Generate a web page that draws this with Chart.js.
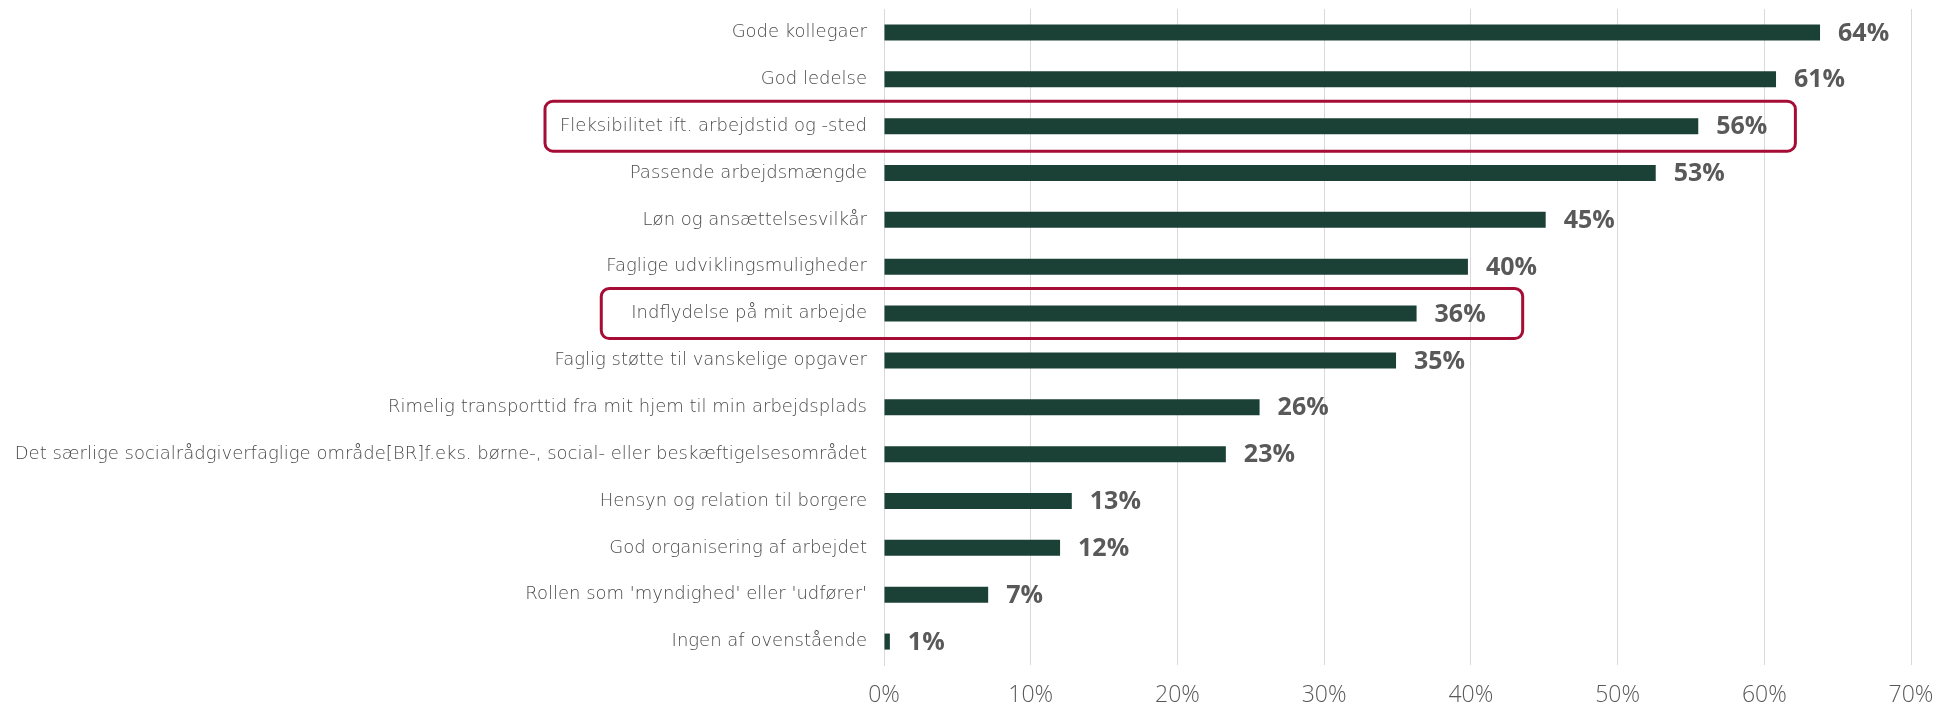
<!DOCTYPE html>
<html>
<head>
<meta charset="utf-8">
<script src="https://cdn.jsdelivr.net/npm/chart.js@4"></script>
<style>
html, body { margin: 0; padding: 0; background: #fff; }
#wrap { width: 1936px; height: 707px; position: relative; }
</style>
</head>
<body>
<div id="wrap"><canvas id="barChart"></canvas></div>
<script>
var categories = [
    'Gode kollegaer',
    'God ledelse',
    'Fleksibilitet ift. arbejdstid og -sted',
    'Passende arbejdsmængde',
    'Løn og ansættelsesvilkår',
    'Faglige udviklingsmuligheder',
    'Indflydelse på mit arbejde',
    'Faglig støtte til vanskelige opgaver',
    'Rimelig transporttid fra mit hjem til min arbejdsplads',
    'Det særlige socialrådgiverfaglige område[BR]f.eks. børne-, social- eller beskæftigelsesområdet',
    'Hensyn og relation til borgere',
    'God organisering af arbejdet',
    "Rollen som 'myndighed' eller 'udfører'",
    'Ingen af ovenstående'
];
var values = [63.8, 60.8, 55.5, 52.6, 45.1, 39.8, 36.3, 34.9, 25.6, 23.3, 12.8, 12.0, 7.1, 0.4];
var valueLabels = ['64%', '61%', '56%', '53%', '45%', '40%', '36%', '35%', '26%', '23%', '13%', '12%', '7%', '1%'];
var xTicks = [0, 10, 20, 30, 40, 50, 60, 70];
var highlighted = [2, 6];

var GREY = '#595959';
var labelFont = '200 18px "DejaVu Sans"';
var valueFont = 'bold 25px "Open Sans"';
// left/right room inside each red box (drawn by hand in the original)
var boxPad = [[15, 28], [30, 37]];

// value labels at the end of each bar
var valueLabelPlugin = {
    id: 'valueLabels',
    afterDatasetsDraw: function(chart) {
        var ctx = chart.ctx;
        var meta = chart.getDatasetMeta(0);
        ctx.save();
        ctx.font = valueFont;
        ctx.fillStyle = GREY;
        ctx.textBaseline = 'middle';
        ctx.textAlign = 'left';
        meta.data.forEach(function(bar, i) {
            ctx.fillText(valueLabels[i], bar.x + 18, bar.y + 1);
        });
        ctx.restore();
    }
};

// red rounded boxes round the highlighted rows
var highlightPlugin = {
    id: 'highlight',
    afterDraw: function(chart) {
        var ctx = chart.ctx;
        var x = chart.scales.x, y = chart.scales.y;
        ctx.save();
        highlighted.forEach(function(i, k) {
            var cy = y.getPixelForValue(i);
            ctx.font = labelFont;
            var lw = ctx.measureText(categories[i]).width;
            ctx.font = valueFont;
            var vw = ctx.measureText(valueLabels[i]).width;
            var left = y.right - 17 - lw - boxPad[k][0];
            var right = x.getPixelForValue(values[i]) + 18 + vw + boxPad[k][1];
            ctx.beginPath();
            ctx.roundRect(left, cy - 25, right - left, 50, 8);
            ctx.strokeStyle = '#a50d36';
            ctx.lineWidth = 3;
            ctx.stroke();
        });
        ctx.restore();
    }
};

var barChart = document.getElementById('barChart').getContext('2d');

new Chart(barChart, {
    type: 'bar',
    data: {
        labels: categories,
        datasets: [{
            data: values,
            backgroundColor: '#1b4036',
            barPercentage: 0.57,
            categoryPercentage: 0.6
        }]
    },
    options: {
        indexAxis: 'y',
        responsive: true,
        maintainAspectRatio: false,
        animation: false,
        plugins: {
            legend: { display: false },
            tooltip: { enabled: false }
        },
        layout: {
            padding: { left: 0, right: 25, top: 9, bottom: 0 }
        },
        scales: {
            x: {
                min: 0,
                max: 70,
                afterBuildTicks: function(scale) {
                    scale.ticks = xTicks.map(function(v) { return { value: v }; });
                },
                afterFit: function(scale) {
                    scale.height = 42;
                    scale.paddingLeft = 0;
                    scale.paddingRight = 0;
                },
                ticks: {
                    callback: function(v) { return v + '%'; },
                    color: GREY,
                    font: { family: 'Open Sans', size: 23, weight: '300' },
                    padding: 17,
                    maxRotation: 0
                },
                grid: { color: '#d9d9d9', lineWidth: 1, drawTicks: false },
                border: { display: false }
            },
            y: {
                afterFit: function(scale) {
                    scale.width = 884;
                    scale.paddingTop = 0;
                    scale.paddingBottom = 0;
                },
                ticks: {
                    color: '#4a4a4a',
                    font: { family: 'DejaVu Sans', size: 18, weight: '200' },
                    padding: 17,
                    autoSkip: false
                },
                grid: { display: false, drawTicks: false },
                border: { color: '#d9d9d9', width: 1 }
            }
        }
    },
    plugins: [valueLabelPlugin, highlightPlugin]
});
</script>
</body>
</html>
